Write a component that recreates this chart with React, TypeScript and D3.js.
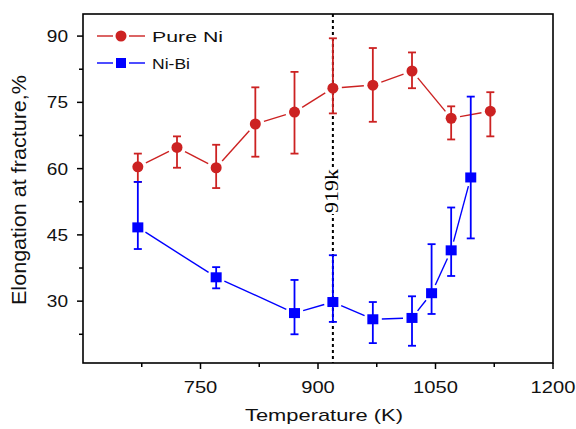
import React from "react";
import * as d3 from "d3";

const pureTemps = [670, 720, 770, 820, 870, 919, 970, 1020, 1070, 1120];
const pureMean = [60.4, 64.8, 60.2, 70.1, 72.8, 78.2, 78.9, 82.1, 71.4, 73.0];
const pureLow = [57.0, 60.2, 55.6, 62.7, 63.4, 72.5, 70.6, 78.2, 66.6, 67.3];
const pureHigh = [63.4, 67.3, 65.4, 78.4, 81.9, 89.5, 87.3, 86.3, 74.1, 77.3];

const bitTemps = [670, 770, 870, 919, 970, 1020, 1045, 1070, 1095];
const bitMean = [46.7, 35.4, 27.3, 29.8, 25.9, 26.2, 31.8, 41.5, 58.0];
const bitLow = [41.8, 32.9, 22.5, 25.3, 20.5, 19.9, 27.1, 35.7, 44.2];
const bitHigh = [57.0, 37.7, 34.8, 40.4, 29.8, 31.1, 42.9, 51.2, 76.3];

const xMajor = [750, 900, 1050, 1200];
const xMinor = [675, 825, 975, 1125];
const yMajor = [30, 45, 60, 75, 90];
const yMinor = [22.5, 37.5, 52.5, 67.5, 82.5];

const seriesNames = ["Pure Ni", "Ni-Bi"];
const markerLine = 919;
const markerLabel = "919k";

const RED = "#cc2222";
const BLUE = "#0000ff";

const W = 576, H = 429;
const L = 83, R = 553, T = 14, B = 363;

export default function App() {
  const x = d3.scaleLinear().domain([600, 1200]).range([L, R]);
  const y = d3.scaleLinear().domain([16, 95]).range([B, T]);

  const gapSegments = (xs: number[], ys: number[], gap: number) => {
    const segs: string[] = [];
    for (let i = 0; i < xs.length - 1; i++) {
      const x1 = x(xs[i]), y1 = y(ys[i]), x2 = x(xs[i + 1]), y2 = y(ys[i + 1]);
      const dx = x2 - x1, dy = y2 - y1;
      const len = Math.hypot(dx, dy);
      if (len <= 2 * gap) continue;
      const ux = dx / len, uy = dy / len;
      const p = d3.path();
      p.moveTo(x1 + ux * gap, y1 + uy * gap);
      p.lineTo(x2 - ux * gap, y2 - uy * gap);
      segs.push(p.toString());
    }
    return segs;
  };

  const errorBars = (xs: number[], lo: number[], hi: number[], color: string, key: string) =>
    xs.map((t, i) => {
      const cx = x(t);
      return (
        <g key={key + i} stroke={color} strokeWidth={1.8}>
          <line x1={cx} x2={cx} y1={y(lo[i])} y2={y(hi[i])} />
          <line x1={cx - 4} x2={cx + 4} y1={y(lo[i])} y2={y(lo[i])} />
          <line x1={cx - 4} x2={cx + 4} y1={y(hi[i])} y2={y(hi[i])} />
        </g>
      );
    });

  const tickFont = "Liberation Sans, Arial, sans-serif";
  const vx = x(markerLine);
  const labelCy = 191;

  return (
    <svg width={W} height={H} style={{ position: "absolute", left: 0, top: 0, background: "#fff" }}>
      <rect x={0} y={0} width={W} height={H} fill="#fff" />

      {/* dotted marker line */}
      <line x1={vx} x2={vx} y1={T} y2={B} stroke="#000" strokeWidth={2} strokeDasharray="3,3" />
      <rect x={vx - 12} y={labelCy - 23} width={17} height={46} fill="#fff" />
      <text
        transform={`translate(${vx + 5},${labelCy}) rotate(-90)`}
        textAnchor="middle"
        fontFamily="Liberation Serif, Times New Roman, serif"
        fontSize={18}
        textLength={44}
        lengthAdjust="spacingAndGlyphs"
        fill="#000"
      >
        {markerLabel}
      </text>

      {/* series lines */}
      {gapSegments(pureTemps, pureMean, 9).map((d, i) => (
        <path key={"pl" + i} d={d} stroke={RED} strokeWidth={1.4} fill="none" />
      ))}
      {gapSegments(bitTemps, bitMean, 9).map((d, i) => (
        <path key={"bl" + i} d={d} stroke={BLUE} strokeWidth={1.4} fill="none" />
      ))}

      {errorBars(pureTemps, pureLow, pureHigh, RED, "pe")}
      {errorBars(bitTemps, bitLow, bitHigh, BLUE, "be")}

      {pureTemps.map((t, i) => (
        <circle key={"pm" + i} cx={x(t)} cy={y(pureMean[i])} r={5.5} fill={RED} />
      ))}
      {bitTemps.map((t, i) => (
        <rect key={"bm" + i} x={x(t) - 5.5} y={y(bitMean[i]) - 5} width={11} height={10} fill={BLUE} />
      ))}

      {/* frame */}
      <rect x={L} y={T} width={R - L} height={B - T} fill="none" stroke="#000" strokeWidth={1.6} />

      {/* x ticks */}
      {xMajor.map((v) => (
        <g key={"xt" + v}>
          <line x1={x(v)} x2={x(v)} y1={B} y2={B + 6} stroke="#000" strokeWidth={1.5} />
          <text
            x={x(v)}
            y={393}
            textAnchor="middle"
            fontFamily={tickFont}
            fontSize={17}
            textLength={String(v).length * 11.2}
            lengthAdjust="spacingAndGlyphs"
            fill="#111"
          >
            {v}
          </text>
        </g>
      ))}
      {xMinor.map((v) => (
        <line key={"xm" + v} x1={x(v)} x2={x(v)} y1={B} y2={B + 4} stroke="#000" strokeWidth={1.5} />
      ))}

      {/* y ticks */}
      {yMajor.map((v) => (
        <g key={"yt" + v}>
          <line x1={L - 6} x2={L} y1={y(v)} y2={y(v)} stroke="#000" strokeWidth={1.5} />
          <text
            x={68}
            y={y(v) + 6}
            textAnchor="end"
            fontFamily={tickFont}
            fontSize={17}
            textLength={String(v).length * 10.6}
            lengthAdjust="spacingAndGlyphs"
            fill="#111"
          >
            {v}
          </text>
        </g>
      ))}
      {yMinor.map((v) => (
        <line key={"ym" + v} x1={L - 4} x2={L} y1={y(v)} y2={y(v)} stroke="#000" strokeWidth={1.5} />
      ))}

      {/* axis titles */}
      <text
        x={324}
        y={421}
        textAnchor="middle"
        fontFamily={tickFont}
        fontSize={17}
        textLength={158}
        lengthAdjust="spacingAndGlyphs"
        fill="#111"
      >
        Temperature (K)
      </text>
      <text
        transform={`translate(26,190) rotate(-90)`}
        textAnchor="middle"
        fontFamily={tickFont}
        fontSize={20}
        textLength={230}
        lengthAdjust="spacingAndGlyphs"
        fill="#111"
      >
        Elongation at fracture,%
      </text>

      {/* legend */}
      <g>
        <line x1={97} x2={113} y1={36} y2={36} stroke={RED} strokeWidth={1.4} />
        <line x1={129} x2={145} y1={36} y2={36} stroke={RED} strokeWidth={1.4} />
        <circle cx={121} cy={36} r={5.5} fill={RED} />
        <text x={152} y={41.5} fontFamily={tickFont} fontSize={15} textLength={71} lengthAdjust="spacingAndGlyphs" fill="#111">
          {seriesNames[0]}
        </text>
        <line x1={97} x2={113} y1={63} y2={63} stroke={BLUE} strokeWidth={1.4} />
        <line x1={129} x2={145} y1={63} y2={63} stroke={BLUE} strokeWidth={1.4} />
        <rect x={116} y={58} width={10} height={10} fill={BLUE} />
        <text x={152} y={68.5} fontFamily={tickFont} fontSize={15} textLength={38} lengthAdjust="spacingAndGlyphs" fill="#111">
          {seriesNames[1]}
        </text>
      </g>
    </svg>
  );
}
